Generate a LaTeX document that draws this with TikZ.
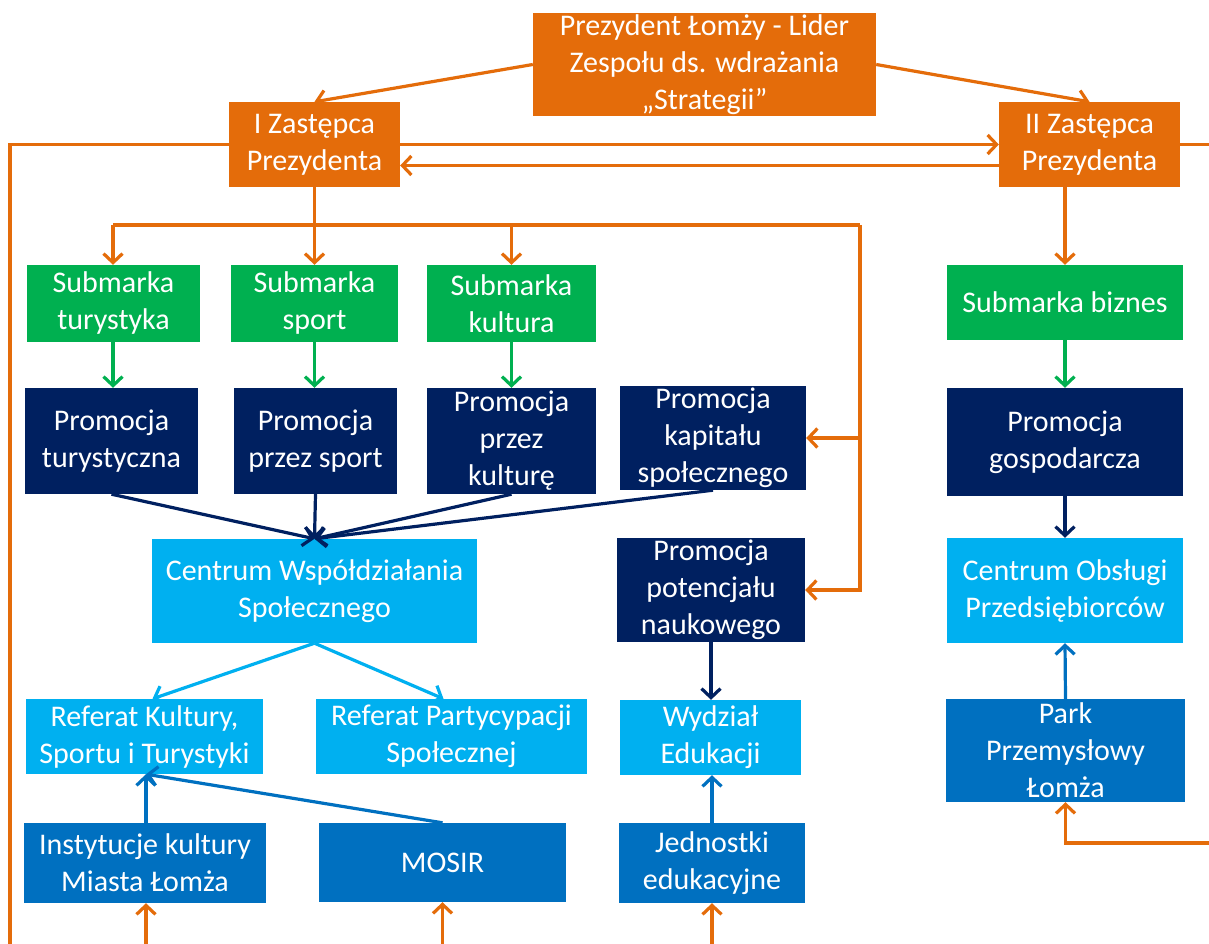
\documentclass[tikz,border=0pt]{standalone}
\usepackage{fontspec}
\setmainfont{Carlito}
\usetikzlibrary{arrows.meta}

\definecolor{cOrange}{HTML}{E46C0A}
\definecolor{cGreen}{HTML}{00B050}
\definecolor{cNavy}{HTML}{002060}
\definecolor{cLight}{HTML}{00B0F0}
\definecolor{cMid}{HTML}{0070C0}

\tikzset{
  box/.style={rectangle, inner sep=0pt, align=center, text=white,
    font=\fontsize{30}{37}\selectfont},
  obox/.style={box, fill=cOrange},
  gbox/.style={box, fill=cGreen},
  nbox/.style={box, fill=cNavy},
  lbox/.style={box, fill=cLight},
  mbox/.style={box, fill=cMid},
  link/.style={line width=3.2pt, -{Straight Barb[length=9pt,width=19pt,line width=3.2pt]}},
  plain/.style={line width=3.2pt},
}

\begin{document}
\begin{tikzpicture}[x=1pt,y=-1pt]
\useasboundingbox[fill=white] (0,0) rectangle (1209,944);

% management level
\node[obox, minimum width=343pt, minimum height=103pt] (pres) at (704.5,64.5)
  {Prezydent Łomży - Lider\\Zespołu ds. wdrażania\\„Strategii”};
\node[obox, minimum width=171pt, minimum height=85pt] (z1) at (314.5,144.5)
  {I Zastępca\\Prezydenta};
\node[obox, minimum width=181pt, minimum height=85pt] (z2) at (1089.5,144.5)
  {II Zastępca\\Prezydenta};

% sub-brands
\node[gbox, minimum width=173pt, minimum height=77pt] (stur) at (113.5,303.5) {Submarka\\turystyka};
\node[gbox, minimum width=167pt, minimum height=77pt] (sspo) at (314.5,303.5) {Submarka\\sport};
\node[gbox, minimum width=169pt, minimum height=77pt] (skul) at (511.5,303.5) {Submarka\\kultura};
\node[gbox, minimum width=236pt, minimum height=75pt] (sbiz) at (1065,302.5) {Submarka biznes};

% promotion
\node[nbox, minimum width=173pt, minimum height=106pt] (ptur) at (111.5,441) {Promocja\\turystyczna};
\node[nbox, minimum width=163pt, minimum height=106pt] (pspo) at (315.5,441) {Promocja\\przez sport};
\node[nbox, minimum width=169pt, minimum height=106pt] (pkul) at (511.5,441) {Promocja\\przez\\kulturę};
\node[nbox, minimum width=186pt, minimum height=104pt] (pkap) at (713,438) {Promocja\\kapitału\\społecznego};
\node[nbox, minimum width=236pt, minimum height=108pt] (pgos) at (1065,442) {Promocja\\gospodarcza};

% centres
\node[lbox, minimum width=325pt, minimum height=104pt] (cws) at (314.5,591) {Centrum Współdziałania\\Społecznego};
\node[nbox, minimum width=188pt, minimum height=104pt] (ppot) at (711,590) {Promocja\\potencjału\\naukowego};
\node[lbox, minimum width=236pt, minimum height=105pt] (cop) at (1065,590.5) {Centrum Obsługi\\Przedsiębiorców};

% departments
\node[lbox, minimum width=237pt, minimum height=75pt] (rks) at (144.5,736.5) {Referat Kultury,\\Sportu i Turystyki};
\node[lbox, minimum width=271pt, minimum height=75pt] (rps) at (451.5,736.5) {Referat Partycypacji\\Społecznej};
\node[lbox, minimum width=181pt, minimum height=75pt] (wed) at (710.5,737.5) {Wydział\\Edukacji};
\node[mbox, minimum width=239pt, minimum height=103pt] (park) at (1065.5,750.5) {Park\\Przemysłowy\\Łomża};

% units
\node[mbox, minimum width=242pt, minimum height=80pt] (inst) at (145,863) {Instytucje kultury\\Miasta Łomża};
\node[mbox, minimum width=247pt, minimum height=79pt] (mosir) at (442.5,862.5) {MOSIR};
\node[mbox, minimum width=186pt, minimum height=80pt] (jedn) at (712,863) {Jednostki\\edukacyjne};

% free line ends
\coordinate (busL) at (113,225);
\coordinate (busR) at (860,225);
\coordinate (leftT) at (10,144.5);
\coordinate (leftB) at (10,944);
\coordinate (rightT) at (1209,144.5);
\coordinate (rightP) at (1209,843);
\coordinate (inBot) at (146,944);
\coordinate (moBot) at (442.5,944);
\coordinate (jeBot) at (712,944);

% orange management links
\begin{scope}[cOrange]
  \draw[link] (pres.west) -- (z1.north);
  \draw[link] (pres.east) -- (z2.north);
  \draw[link] (z1.east) -- (z2.west);
  \draw[link] ([yshift=-21pt]z2.west) -- ([yshift=-21pt]z1.east);
  \draw[plain] (z1.west) -- (leftT) -- (leftB);
  \draw[plain] (z2.east) -- (rightT);
  \draw[link] (z1.south) -- (sspo.north);
  \draw[plain] (busL) -- (busR);
  \draw[link] (busL) -- (busL |- stur.north);
  \draw[link] (skul.north |- busL) -- (skul.north);
  \draw[link] (busR) -- (busR |- ppot.east) -- (ppot.east);
  \draw[link] (busR |- pkap.east) -- (pkap.east);
  \draw[link] (sbiz.north |- z2.south) -- (sbiz.north);
  \draw[link] (rightP) -- (rightP -| park.south) -- (park.south);
  \draw[link] (inBot) -- (inBot |- inst.south);
  \draw[link] (moBot) -- (mosir.south);
  \draw[link] (jeBot) -- (jedn.south);
\end{scope}

% green links
\begin{scope}[cGreen]
  \draw[link] (busL |- stur.south) -- (busL |- ptur.north);
  \draw[link] (sspo.south) -- (sspo.south |- pspo.north);
  \draw[link] (skul.south) -- (pkul.north);
  \draw[link] (sbiz.south) -- (pgos.north);
\end{scope}

% navy links
\begin{scope}[cNavy]
  \draw[link] (ptur.south) -- (cws.north);
  \draw[link] (pspo.south) -- (cws.north);
  \draw[link] (pkul.south) -- (cws.north);
  \draw[link] (pkap.south) -- (cws.north);
  \draw[link] (ppot.south) -- (ppot.south |- wed.north);
  \draw[link] (pgos.south) -- (cop.north);
\end{scope}

% light blue links
\begin{scope}[cLight]
  \draw[link] (cws.south) -- ([xshift=8pt]rks.north);
  \draw[link] (cws.south) -- ([xshift=-8pt]rps.north);
\end{scope}

% mid blue links
\begin{scope}[cMid]
  \draw[link] (inst.north -| inBot) -- (inBot |- rks.south);
  \draw[link] (mosir.north) -- (inBot |- rks.south);
  \draw[link] (jedn.north) -- (jedn.north |- wed.south);
  \draw[link] (park.north) -- (cop.south);
\end{scope}
\end{tikzpicture}
\end{document}
